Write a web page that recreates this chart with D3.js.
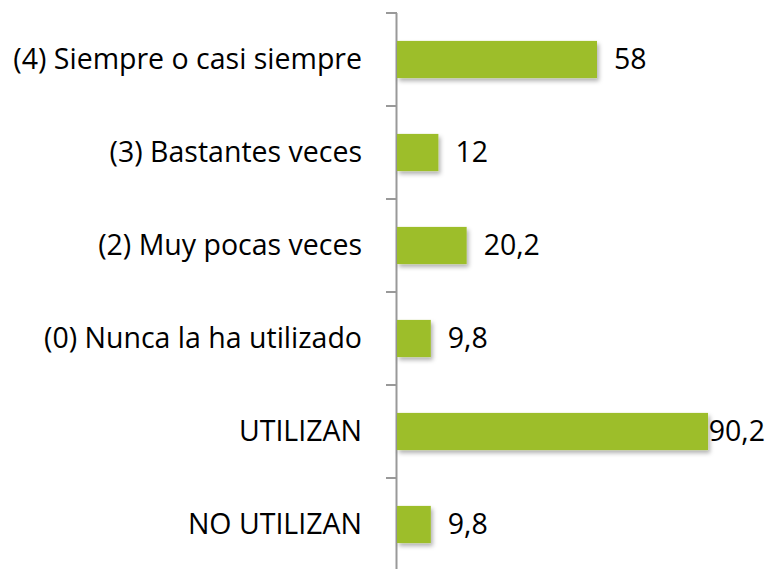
<!DOCTYPE html>
<html>
<head>
<meta charset="utf-8">
<script src="https://cdn.jsdelivr.net/npm/d3@7"></script>
<style>
  body { margin: 0; background: #fff; }
  svg text { font-family: "Open Sans", sans-serif; fill: #000; }
</style>
</head>
<body>
<svg id="chart" width="769" height="569"></svg>
<script>
var categories = ["(4) Siempre o casi siempre", "(3) Bastantes veces", "(2) Muy pocas veces",
  "(0) Nunca la ha utilizado", "UTILIZAN", "NO UTILIZAN"];
var values = [58, 12, 20.2, 9.8, 90.2, 9.8];
var valueLabels = ["58", "12", "20,2", "9,8", "90,2", "9,8"];

var svg = d3.select("#chart");
var x0 = 397;

var y = d3.scaleBand().domain(categories).range([13, 571]).paddingInner(0.6).paddingOuter(0.3);
var x = d3.scaleLinear().domain([0, 58]).range([x0, 597]);

var defs = svg.append("defs");
var f = defs.append("filter").attr("id", "shadow").attr("x", "-10%").attr("y", "-20%")
  .attr("width", "130%").attr("height", "160%");
f.append("feDropShadow").attr("dx", 2).attr("dy", 3).attr("stdDeviation", 2)
  .attr("flood-color", "#000").attr("flood-opacity", 0.3);

// band boundaries for ticks
var step = y.step();
var ticks = d3.range(categories.length).map(function (i) { return 13 + i * step; });

svg.append("line").attr("x1", x0 - 0.5).attr("x2", x0 - 0.5).attr("y1", 13).attr("y2", 569)
  .style("stroke", "#999").style("stroke-width", 2);
svg.selectAll("line.tick").data(ticks).enter().append("line").attr("class", "tick")
  .attr("x1", x0 - 11).attr("x2", x0).attr("y1", function (d) { return d; })
  .attr("y2", function (d) { return d; })
  .style("stroke", "#999").style("stroke-width", 2);

svg.selectAll("rect.bar").data(values).enter().append("rect").attr("class", "bar")
  .attr("x", x0)
  .attr("y", function (d, i) { return y(categories[i]); })
  .attr("width", function (d) { return x(d) - x0; })
  .attr("height", y.bandwidth())
  .style("fill", "#9dbe29")
  .attr("filter", "url(#shadow)");

svg.selectAll("text.cat").data(categories).enter().append("text").attr("class", "cat")
  .attr("x", 362)
  .attr("y", function (d) { return y(d) + y.bandwidth() / 2; })
  .attr("dy", "0.35em")
  .attr("text-anchor", "end")
  .style("font-size", "28.5px")
  .text(function (d) { return d; });

svg.selectAll("text.val").data(values).enter().append("text").attr("class", "val")
  .attr("x", function (d) { return x(d) + 17; })
  .attr("y", function (d, i) { return y(categories[i]) + y.bandwidth() / 2; })
  .attr("dy", "0.35em")
  .style("font-size", "28.5px")
  .text(function (d, i) { return valueLabels[i]; })
  .each(function () {
    // keep label inside the picture, like the original
    var w = this.getComputedTextLength();
    var lx = +d3.select(this).attr("x");
    if (lx + w > 765) d3.select(this).attr("x", 765 - w);
  });
</script>
</body>
</html>
